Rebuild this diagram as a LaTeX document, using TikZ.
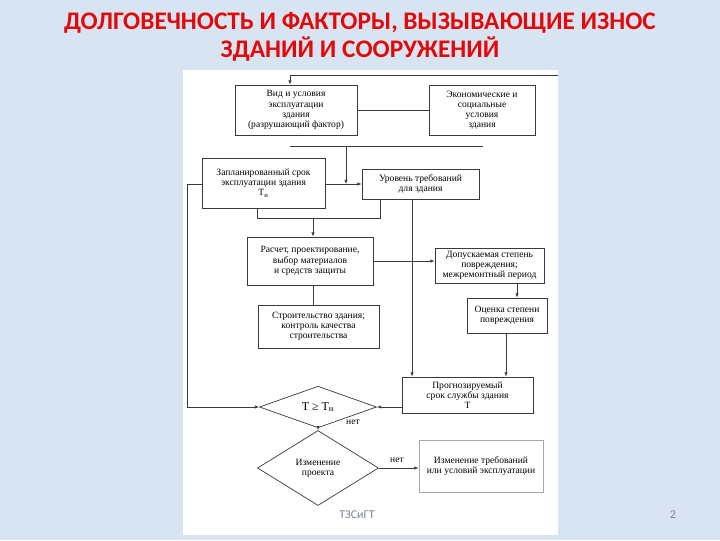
\documentclass[tikz,border=0pt]{standalone}
\usepackage{fontspec}
\setmainfont{Liberation Serif}
\newfontfamily\titlefont{Carlito}
\usetikzlibrary{shapes.geometric,arrows.meta}
\definecolor{slideblue}{HTML}{D9E4F2}
\definecolor{titlered}{HTML}{E10A0A}
\definecolor{linegray}{HTML}{3A3A3A}
\definecolor{footgray}{HTML}{7A8494}

\begin{document}
\begin{tikzpicture}[x=0.025cm, y=-0.025cm,
    box/.style={draw=linegray, line width=0.5pt, rectangle, align=center, inner sep=1pt,
        font=\fontsize{6.8}{7.2}\selectfont},
    decision/.style={draw=linegray, line width=0.5pt, diamond, align=center, inner sep=0pt,
        font=\fontsize{6.8}{7.2}\selectfont},
    link/.style={draw=linegray, line width=0.5pt},
    tip/.style={-{Latex[length=3pt,width=2.4pt]}}]
    \fill[slideblue] (0,0) rectangle (720,540);
    \fill[white] (183,70) rectangle (558,535);
    \useasboundingbox (0,0) rectangle (720,540);

    % title
    \node[font=\titlefont\bfseries\fontsize{18}{20}\selectfont, text=titlered, align=center] (title) at (360,37)
        {ДОЛГОВЕЧНОСТЬ И ФАКТОРЫ, ВЫЗЫВАЮЩИЕ ИЗНОС\\ЗДАНИЙ И СООРУЖЕНИЙ};

    % boxes
    \node[box, minimum width=3.05cm, minimum height=1.25cm] (K1) at (296,110)
        {Вид и условия\\эксплуатации\\здания\\(разрушающий фактор)};
    \node[box, minimum width=2.65cm, minimum height=1.25cm] (K2) at (482,110)
        {Экономические и\\социальные\\условия\\здания};
    \node[box, minimum width=3.075cm, minimum height=1.25cm] (K3) at (263.5,183)
        {Запланированный срок\\эксплуатации здания\\T\textsubscript{н}};
    \node[box, minimum width=2.925cm, minimum height=0.75cm] (K4) at (420.5,184)
        {Уровень требований\\для здания};
    \node[box, minimum width=3.15cm, minimum height=1.2cm] (K5) at (310,261)
        {Расчет, проектирование,\\выбор материалов\\и средств защиты};
    \node[box, minimum width=2.725cm, minimum height=0.875cm] (K6) at (489.5,265.5)
        {Допускаемая степень\\повреждения;\\межремонтный период};
    \node[box, minimum width=3.025cm, minimum height=1.075cm] (K7) at (318.5,326.5)
        {Строительство здания;\\контроль качества\\строительства};
    \node[box, minimum width=2cm, minimum height=0.875cm] (K8) at (507,315.5)
        {Оценка степени\\повреждения};
    \node[box, minimum width=3.275cm, minimum height=0.9cm] (K9) at (467.5,395)
        {Прогнозируемый\\срок службы здания\\T};
    \node[box, draw=gray!70, minimum width=3.1cm, minimum height=1.3cm] (K10) at (481,466)
        {Изменение требований\\или условий эксплуатации};

    % decisions
    \node[decision, font=\fontsize{8.5}{9}\selectfont, minimum width=2.925cm, minimum height=0.975cm] (D1) at (318,407)
        {T ≥ T\textsubscript{н}};
    \node[decision, minimum width=3.025cm, minimum height=1.875cm] (D2) at (318,468)
        {Изменение\\проекта};

    % helper points
    \coordinate (R0) at (558,75);
    \coordinate (R1) at (290,75);
    \coordinate (M1) at (290,146);
    \coordinate (M2) at (483,146);
    \coordinate (M3) at (346,146);
    \coordinate (L1) at (187,184);
    \coordinate (B1) at (257,218);
    \coordinate (B2) at (380,218);
    \coordinate (B3) at (313,218);
    \coordinate (V1) at (412,0);
    \coordinate (V2) at (517,0);
    \coordinate (V3) at (506,0);

    % connectors
    \draw[link, tip] (R0) -- (R1) -- (R1 |- K1.north);
    \draw[link] (K1) -- (K2);
    \draw[link] (M1) -- (M2);
    \draw[link, tip] (M3) -- (M3 |- K4.west);
    \draw[link, tip] (K3.east |- K4.west) -- (K4.west);
    \draw[link, tip] (K3.west |- L1) -- (L1) |- (D1.west);
    \draw[link] (B1 |- K3.south) -- (B1) -- (B2) -- (B2 |- K4.south);
    \draw[link, tip] (B3) -- (K5.north -| B3);
    \draw[link, tip] (K4.south -| V1) -- (K9.north -| V1);
    \draw[link, tip] (K5.east) -- (K5.east -| K6.west);
    \draw[link, tip] (K6.south -| V2) -- (K8.north -| V2);
    \draw[link] (K5.south -| B3) -- (K7.north -| B3);
    \draw[link, tip] (K8.south -| V3) -- (K9.north -| V3);
    \draw[link, tip] (K9.west |- D1.east) -- (D1.east);
    \draw[link, tip] (D1.south) -- (D2.north);
    \draw[link, tip] (D2.east) -- (K10.west |- D2.east);

    % labels
    \node[font=\fontsize{6.8}{7.2}\selectfont] (no1) at (353,422) {нет};
    \node[font=\fontsize{6.8}{7.2}\selectfont] (no2) at (397,460) {нет};

    % footer
    \node[font=\titlefont\fontsize{8.5}{9}\selectfont, text=footgray] (foot) at (357,515) {ТЗСиГТ};
    \node[font=\titlefont\fontsize{8.5}{9}\selectfont, text=footgray] (page) at (673,515) {2};
\end{tikzpicture}
\end{document}
